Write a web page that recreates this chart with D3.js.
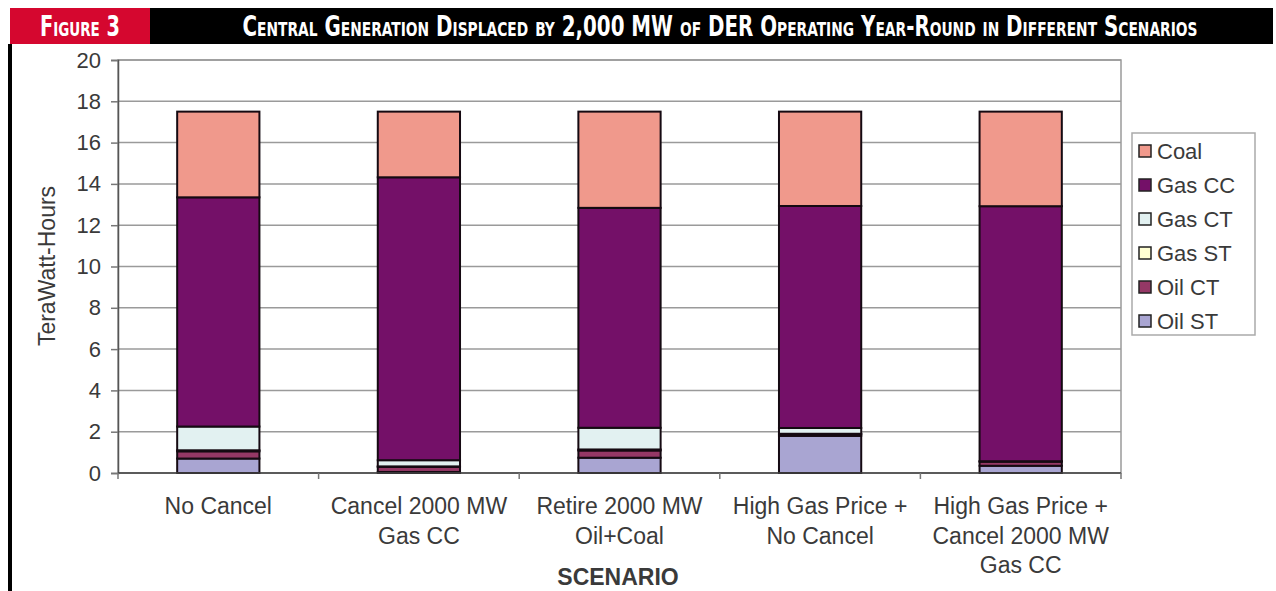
<!DOCTYPE html>
<html>
<head>
<meta charset="utf-8">
<script src="https://cdn.jsdelivr.net/npm/d3@7"></script>
<style>
  body { margin: 0; background: #fff; }
  text { font-family: "Liberation Sans", Arial, sans-serif; }
</style>
</head>
<body>
<div id="wrapper"></div>
<script>
const w = 1276
const h = 591

// scenarios on the x axis (lines split with \n)
const scenarios = [
  "No Cancel",
  "Cancel 2000 MW\nGas CC",
  "Retire 2000 MW\nOil+Coal",
  "High Gas Price +\nNo Cancel",
  "High Gas Price +\nCancel 2000 MW\nGas CC"
]

// stack order, bottom to top
const sources = ["Oil ST", "Oil CT", "Gas ST", "Gas CT", "Gas CC", "Coal"]
const colors = ["#a9a5d2", "#953866", "#ffffd2", "#e2f1f1", "#741068", "#f0998c"]

// TWh per scenario
const oilST = [0.70, 0.05, 0.74, 1.80, 0.35]
const oilCT = [0.35, 0.25, 0.35, 0.08, 0.20]
const gasST = [0.05, 0.02, 0.05, 0.02, 0.00]
const gasCT = [1.15, 0.30, 1.05, 0.28, 0.02]
const gasCC = [11.10, 13.70, 10.65, 10.75, 12.35]
const coal  = [4.15, 3.18, 4.66, 4.57, 4.58]

const yTicks = [0, 2, 4, 6, 8, 10, 12, 14, 16, 18, 20]

const rows = scenarios.map((s, i) => ({
  scenario: s,
  "Oil ST": oilST[i], "Oil CT": oilCT[i], "Gas ST": gasST[i],
  "Gas CT": gasCT[i], "Gas CC": gasCC[i], "Coal": coal[i]
}))

const svg = d3.select("#wrapper").append("svg")
  .attr("width", w)
  .attr("height", h)

// header band
svg.append("rect").attr("x", 10).attr("y", 8).attr("width", 140).attr("height", 36).attr("fill", "#d5072f")
svg.append("rect").attr("x", 150).attr("y", 8).attr("width", 1123).attr("height", 36).attr("fill", "#000")
svg.append("rect").attr("x", 8).attr("y", 44).attr("width", 4).attr("height", h - 44).attr("fill", "#000")

// condensed, a bit taller than the font gives
const headFont = '"Liberation Sans Narrow", "DejaVu Sans Condensed", sans-serif'
function headText(cx, len, str) {
  svg.append("g")
    .attr("transform", `translate(${cx},36) scale(1,1.15)`)
    .append("text")
    .attr("text-anchor", "middle")
    .attr("textLength", len).attr("lengthAdjust", "spacingAndGlyphs")
    .style("font-family", headFont).style("font-weight", "bold")
    .style("font-size", "24px").style("font-variant", "small-caps")
    .attr("fill", "#fff")
    .text(str)
}
headText(80, 80, "Figure 3")
headText(720, 955, "Central Generation Displaced by 2,000 MW of DER Operating Year-Round in Different Scenarios")

// plot area
const m = { left: 118, right: 1121, top: 60, bottom: 473 }

const x = d3.scaleBand()
  .domain(scenarios)
  .range([m.left, m.right])

const y = d3.scaleLinear()
  .domain([0, 20])
  .range([m.bottom, m.top])

const barW = x.bandwidth() * 0.41

// gridlines
svg.append("g")
  .selectAll("line")
  .data(yTicks)
  .join("line")
  .attr("x1", m.left).attr("x2", m.right)
  .attr("y1", d => y(d)).attr("y2", d => y(d))
  .attr("stroke", "#9a9a9a")
  .attr("stroke-width", 1.5)

svg.append("rect")
  .attr("x", m.left).attr("y", m.top)
  .attr("width", m.right - m.left).attr("height", m.bottom - m.top)
  .attr("fill", "none").attr("stroke", "#9a9a9a").attr("stroke-width", 1.5)

// stacked bars
const stack = d3.stack().keys(sources)(rows)

svg.append("g")
  .selectAll("g")
  .data(stack)
  .join("g")
  .attr("fill", (d, i) => colors[i])
  .selectAll("rect")
  .data(d => d)
  .join("rect")
  .attr("x", d => x(d.data.scenario) + (x.bandwidth() - barW) / 2)
  .attr("y", d => y(d[1]))
  .attr("width", barW)
  .attr("height", d => y(d[0]) - y(d[1]))
  .attr("stroke", "#150a12")
  .attr("stroke-width", 2)

// y axis
const yAxis = svg.append("g")
  .attr("transform", `translate(${m.left},0)`)
  .call(d3.axisLeft(y).tickValues(yTicks).tickSize(7).tickPadding(10))
yAxis.select(".domain").attr("stroke", "#555").attr("stroke-width", 1.5)
yAxis.selectAll(".tick line").attr("stroke", "#777").attr("stroke-width", 1.5)
yAxis.selectAll(".tick text")
  .style("font-size", "22px")
  .attr("fill", "#3a3a3a")

// x axis: ticks between categories
const xAxis = svg.append("g")
  .attr("transform", `translate(0,${m.bottom})`)
xAxis.append("line")
  .attr("x1", m.left).attr("x2", m.right)
  .attr("stroke", "#444").attr("stroke-width", 1.5)
xAxis.selectAll(".sep")
  .data(scenarios.concat([null]))
  .join("line")
  .attr("class", "sep")
  .attr("x1", (d, i) => i < scenarios.length ? x(d) : m.right)
  .attr("x2", (d, i) => i < scenarios.length ? x(d) : m.right)
  .attr("y1", 0).attr("y2", 6)
  .attr("stroke", "#777").attr("stroke-width", 1.5)

xAxis.selectAll(".lbl")
  .data(scenarios)
  .join("text")
  .attr("class", "lbl")
  .attr("text-anchor", "middle")
  .attr("fill", "#3a3a3a")
  .style("font-size", "23px")
  .each(function(d) {
    const t = d3.select(this)
    d.split("\n").forEach((line, k) => {
      t.append("tspan")
        .attr("x", x(d) + x.bandwidth() / 2)
        .attr("y", 41 + k * 29.5)
        .text(line)
    })
  })

svg.append("text")
  .attr("x", 618).attr("y", 585)
  .attr("text-anchor", "middle")
  .attr("fill", "#3a3a3a")
  .style("font-size", "23px").style("font-weight", "bold")
  .text("SCENARIO")

svg.append("text")
  .attr("transform", `translate(55,266) rotate(-90)`)
  .attr("text-anchor", "middle")
  .attr("fill", "#3a3a3a")
  .style("font-size", "23px")
  .text("TeraWatt-Hours")

// legend, top entry is the top of the stack
const legend = svg.append("g")
legend.append("rect")
  .attr("x", 1132).attr("y", 133)
  .attr("width", 123).attr("height", 202)
  .attr("fill", "#fff").attr("stroke", "#aaa").attr("stroke-width", 1.5)

const legItems = sources.slice().reverse()
const legRow = legend.selectAll(".item")
  .data(legItems)
  .join("g")
  .attr("class", "item")
  .attr("transform", (d, i) => `translate(1139,${151 + i * 34})`)

legRow.append("rect")
  .attr("x", 0).attr("y", -6)
  .attr("width", 12).attr("height", 12)
  .attr("fill", d => colors[sources.indexOf(d)])
  .attr("stroke", "#222").attr("stroke-width", 1.5)

legRow.append("text")
  .attr("x", 18).attr("y", 8)
  .attr("fill", "#3a3a3a")
  .style("font-size", "22px")
  .text(d => d)
</script>
</body>
</html>
